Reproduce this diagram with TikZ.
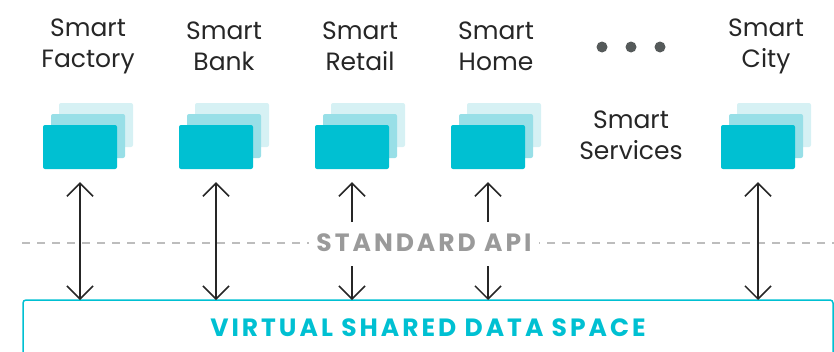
\documentclass[tikz,border=0pt]{standalone}
\usepackage{fontspec}
\setmainfont{Poppins}
\newfontfamily\capsfont[LetterSpace=12]{Poppins}
\usetikzlibrary{arrows.meta}
\definecolor{cardA}{HTML}{00C0D2}
\definecolor{cardB}{HTML}{98DFE7}
\definecolor{cardC}{HTML}{D6F1F4}
\definecolor{inktxt}{HTML}{262626}
\definecolor{apigray}{HTML}{9A9A9A}
\definecolor{dashgray}{HTML}{BDBDBD}
\definecolor{dotgray}{HTML}{555A5A}
\tikzset{>={Straight Barb[length=13pt,width=26pt]}}

\begin{document}
\begin{tikzpicture}[x=1pt,y=-1pt]
        \tikzset{card/.style={rectangle, rounded corners=2pt, minimum width=74pt,
                        minimum height=44pt, inner sep=0pt},
                label/.style={align=center, text=inktxt,
                        font=\fontsize{25}{31}\selectfont},
                link/.style={<->, line width=1.5pt, draw=inktxt}}
        \useasboundingbox (0,0) rectangle (834,351);

        % shared data space
        \draw[draw=cardA, line width=1.5pt, rounded corners=3pt]
                (23,360) -- (23,300) -- (833,300) -- (833,360);
        \coordinate (spaceTop) at (428,300);
        \node[text=cardA, font=\capsfont\bfseries\fontsize{25}{28}\selectfont]
                (space) at (428,328) {VIRTUAL SHARED DATA SPACE};

        % standard api line
        \draw[dashgray, line width=2pt, dash pattern=on 8pt off 7pt] (22,243) -- (834,243);
        \node[fill=white, inner xsep=7pt, text=apigray,
                font=\capsfont\bfseries\fontsize{25}{28}\selectfont]
                (api) at (424,243) {STANDARD API};

        % factory
        \node[label] (factory) at (88,46) {Smart\\Factory};
        \node[card, fill=cardC] (factoryC) at (96,125) {};
        \node[card, fill=cardB] (factoryB) at (88,136) {};
        \node[card, fill=cardA] (factoryA) at (80,147) {};
        \coordinate (factoryIn) at (80,300);
        \draw[link] ([yshift=-13pt]factoryA.south) -- (factoryIn);

        % bank
        \node[label] (bank) at (224,46) {Smart\\Bank};
        \node[card, fill=cardC] (bankC) at (232,125) {};
        \node[card, fill=cardB] (bankB) at (224,136) {};
        \node[card, fill=cardA] (bankA) at (216,147) {};
        \coordinate (bankIn) at (216,300);
        \draw[link] ([yshift=-13pt]bankA.south) -- (bankIn);

        % retail
        \node[label] (retail) at (360,46) {Smart\\Retail};
        \node[card, fill=cardC] (retailC) at (368,125) {};
        \node[card, fill=cardB] (retailB) at (360,136) {};
        \node[card, fill=cardA] (retailA) at (352,147) {};
        \coordinate (retailUp) at (352,222);
        \coordinate (retailDown) at (352,266);
        \coordinate (retailIn) at (352,300);
        \draw[->, line width=1.5pt, inktxt] (retailUp) -- ([yshift=-13pt]retailA.south);
        \draw[->, line width=1.5pt, inktxt] (retailDown) -- (retailIn);

        % home
        \node[label] (home) at (496,46) {Smart\\Home};
        \node[card, fill=cardC] (homeC) at (504,125) {};
        \node[card, fill=cardB] (homeB) at (496,136) {};
        \node[card, fill=cardA] (homeA) at (488,147) {};
        \coordinate (homeUp) at (488,222);
        \coordinate (homeDown) at (488,266);
        \coordinate (homeIn) at (488,300);
        \draw[->, line width=1.5pt, inktxt] (homeUp) -- ([yshift=-13pt]homeA.south);
        \draw[->, line width=1.5pt, inktxt] (homeDown) -- (homeIn);

        % more services
        \fill[dotgray] (602,47) circle (5.5pt) (631,47) circle (5.5pt) (660,47) circle (5.5pt);
        \node[label] (services) at (631,135) {Smart\\Services};

        % city
        \node[label] (city) at (766,46) {Smart\\City};
        \node[card, fill=cardC] (cityC) at (774,125) {};
        \node[card, fill=cardB] (cityB) at (766,136) {};
        \node[card, fill=cardA] (cityA) at (758,147) {};
        \coordinate (cityIn) at (758,300);
        \draw[link] ([yshift=-13pt]cityA.south) -- (cityIn);
\end{tikzpicture}
\end{document}
